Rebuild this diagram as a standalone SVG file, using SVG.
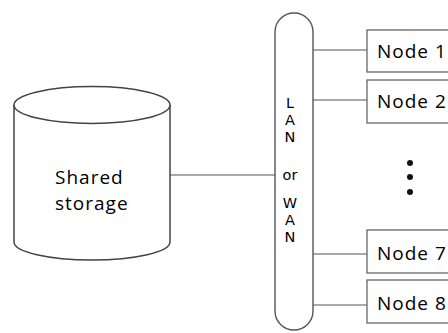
<svg xmlns="http://www.w3.org/2000/svg" width="448" height="333" viewBox="0 0 448 333">
<style>
.t{font-family:"Open Sans","Liberation Sans",sans-serif;font-size:19px;fill:#000;letter-spacing:1px}
.v{font-family:"DejaVu Sans","Liberation Sans",sans-serif;font-size:14.5px;fill:#000;text-anchor:middle}
.box{fill:#fff;stroke:#666;stroke-width:1.3}
.ln{stroke:#555;stroke-width:1.2;fill:none}
</style>
<rect width="448" height="333" fill="#fff"/>
<g id="connectors">
<line class="ln" x1="170" y1="175" x2="275" y2="175"/>
<line class="ln" x1="313" y1="50" x2="367" y2="50"/>
<line class="ln" x1="313" y1="100" x2="367" y2="100"/>
<line class="ln" x1="313" y1="254" x2="367" y2="254"/>
<line class="ln" x1="313" y1="305" x2="367" y2="305"/>
</g>
<g id="shared-storage">
<path d="M14,105 L14,242 A78,18 0 0 0 170,242 L170,105" fill="#fff" stroke="#444" stroke-width="1.5"/>
<ellipse cx="92" cy="105" rx="78" ry="18.5" fill="#fff" stroke="#444" stroke-width="1.5"/>
<text class="t" x="55" y="184">Shared</text>
<text class="t" x="55" y="210">storage</text>
</g>
<g id="lan-wan">
<rect x="275" y="13" width="38" height="317" rx="19" ry="19" fill="#fff" stroke="#555" stroke-width="1.4"/>
<text class="v"><tspan x="290" y="108">L</tspan><tspan x="290" y="125">A</tspan><tspan x="290" y="142">N</tspan><tspan x="290" y="180">or</tspan><tspan x="290" y="208">W</tspan><tspan x="290" y="225">A</tspan><tspan x="290" y="242">N</tspan></text>
</g>
<g id="node1">
<rect class="box" x="367" y="30" width="100" height="42"/>
<text class="t" x="377" y="58">Node 1</text>
</g>
<g id="node2">
<rect class="box" x="367" y="80" width="100" height="43"/>
<text class="t" x="377" y="108">Node 2</text>
</g>
<g id="ellipsis">
<circle cx="410" cy="163" r="3" fill="#111"/>
<circle cx="410" cy="177" r="3" fill="#111"/>
<circle cx="410" cy="192" r="3" fill="#111"/>
</g>
<g id="node7">
<rect class="box" x="367" y="230" width="100" height="43"/>
<text class="t" x="377" y="260">Node 7</text>
</g>
<g id="node8">
<rect class="box" x="367" y="280" width="100" height="43"/>
<text class="t" x="377" y="310">Node 8</text>
</g>
</svg>
